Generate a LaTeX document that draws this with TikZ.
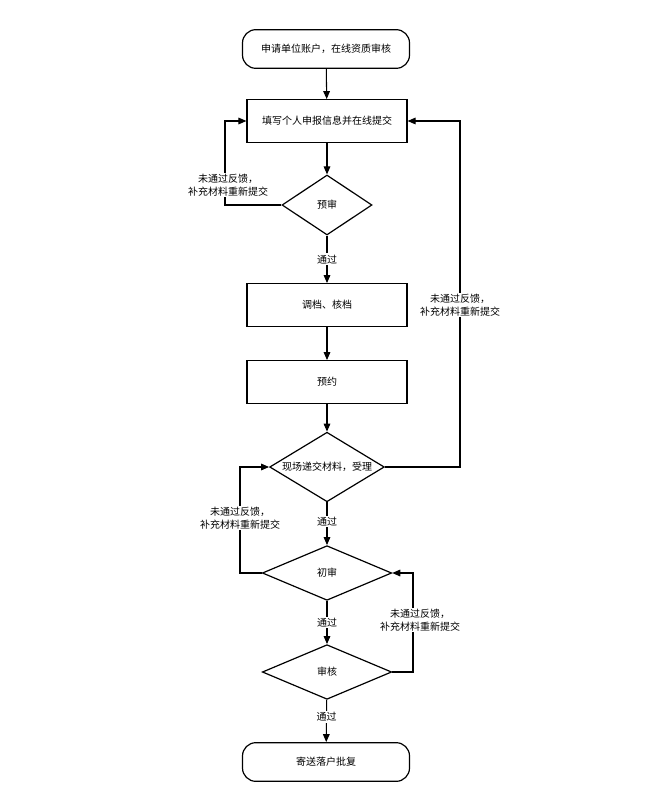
\documentclass[tikz,border=0pt]{standalone}
\usepackage{fontspec}
\setmainfont{Noto Sans CJK SC}
\usetikzlibrary{shapes.geometric,arrows.meta}
\begin{document}
\begin{tikzpicture}[x=0.75pt,y=-0.75pt,
  every node/.style={font=\fontsize{7.5}{9.5}\selectfont},
  term/.style={draw,line width=0.9pt,rounded corners=10pt,minimum width=125.25pt,minimum height=29pt},
  box/.style={draw,line width=0.9pt,minimum width=120pt,minimum height=32pt},
  dia/.style={draw,line width=0.9pt,diamond,aspect=1.5,inner sep=0pt},
  lab/.style={align=center,fill=white,inner sep=1pt},
  arr/.style={draw,line width=0.8pt,-{Triangle[length=6pt,width=5pt]}}]
\useasboundingbox (0,0) rectangle (665,802);
\node[term] (a) at (326,49) {申请单位账户，在线资质审核};
\node[box] (b) at (327,121) {填写个人申报信息并在线提交};
\node[dia,minimum width=67.5pt,minimum height=45pt] (c) at (327,205) {预审};
\node[box] (d) at (327,305) {调档、核档};
\node[box] (e) at (327,382) {预约};
\node[dia,minimum width=86pt,minimum height=44pt] (f) at (327,467) {现场递交材料，受理};
\node[dia,minimum width=97pt,minimum height=41pt] (g) at (327,573) {初审};
\node[dia,minimum width=97pt,minimum height=41pt] (h) at (327,672) {审核};
\node[term] (i) at (326,762) {寄送落户批复};
\path[arr] (a) -- (b);
\path[arr] (b) -- (c);
\path[arr] (c) -- node[lab]{通过} (d);
\path[arr] (d) -- (e);
\path[arr] (e) -- (f);
\path[arr] (f) -- node[lab,pos=0.45]{通过} (g);
\path[arr] (g) -- node[lab]{通过} (h);
\path[arr] (h) -- node[lab,pos=0.4]{通过} (i);
\path[arr] (c.west) -- (225,205) -- (225,121) -- (b.west);
\node[lab] at (228,185) {未通过反馈，\\补充材料重新提交};
\path[arr] (f.east) -- (460,467) -- (460,121) -- (b.east);
\node[lab] at (460,305) {未通过反馈，\\补充材料重新提交};
\path[arr] (g.west) -- (240,573) -- (240,467) -- (f.west);
\node[lab] at (240,518) {未通过反馈，\\补充材料重新提交};
\path[arr] (h.east) -- (413,672) -- (413,573) -- (g.east);
\node[lab] at (420,620) {未通过反馈，\\补充材料重新提交};
\end{tikzpicture}
\end{document}
